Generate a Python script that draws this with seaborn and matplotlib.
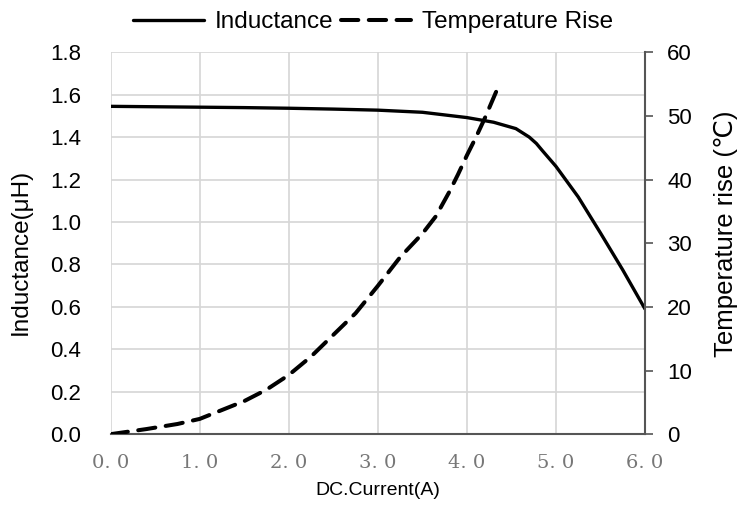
import numpy as np
import pandas as pd
from matplotlib import pyplot as plt
import seaborn as sns

sns.set_style('white')
plt.rcParams['font.family'] = ['Liberation Sans', 'DejaVu Sans']
plt.rcParams['text.color'] = 'black'
plt.rcParams['axes.labelcolor'] = 'black'
plt.rcParams['ytick.color'] = 'black'

ind_current = [0.0, 0.5, 1.0, 1.5, 2.0, 2.5, 3.0, 3.5, 4.0, 4.3, 4.55, 4.7, 4.78, 4.85, 5.0, 5.25, 5.5, 5.75, 6.0]
inductance = [1.545, 1.543, 1.541, 1.539, 1.536, 1.532, 1.527, 1.517, 1.492, 1.47, 1.44, 1.40, 1.37, 1.335, 1.262, 1.118, 0.948, 0.774, 0.59]

temp_current = [0.0, 0.4, 0.75, 1.0, 1.25, 1.5, 1.75, 2.0, 2.25, 2.5, 2.75, 3.0, 3.25, 3.5, 3.65, 3.8, 3.9, 4.0, 4.1, 4.2, 4.35]
temp_rise = [0.0, 0.8, 1.6, 2.4, 3.8, 5.2, 7.0, 9.3, 12.2, 15.6, 19.0, 23.3, 27.8, 31.5, 34.2, 38.0, 40.8, 43.8, 46.6, 49.6, 54.5]

x_ticks = [0, 1, 2, 3, 4, 5, 6]
x_labels = ['0. 0', '1. 0', '2. 0', '3. 0', '4. 0', '5. 0', '6. 0']

df_l = pd.DataFrame({'current': ind_current, 'L': inductance})
df_t = pd.DataFrame({'current': temp_current, 'T': temp_rise})

fig = plt.figure(figsize=(7.38, 5.12), dpi=100)
ax = fig.add_axes([0.150, 0.152, 0.724, 0.746])
ax2 = ax.twinx()

sns.lineplot(data=df_l, x='current', y='L', ax=ax, color='black', lw=2.4,
             label='Inductance', legend=False)
sns.lineplot(data=df_t, x='current', y='T', ax=ax2, color='black', lw=2.9,
             label='Temperature Rise', legend=False)
ax2.lines[0].set_dashes([4.3, 2.6])
ax2.lines[0].set_dash_capstyle('round')

ax.set_xlim(0, 6)
ax.set_ylim(0, 1.8)
ax2.set_ylim(0, 60)
ax.set_yticks(np.arange(0, 1.81, 0.2))
ax.set_yticklabels([f'{v:.1f}' for v in np.arange(0, 1.81, 0.2)])
ax2.set_yticks(range(0, 61, 10))
ax.set_xticks(x_ticks)
ax.set_xticklabels(x_labels, family='DejaVu Serif', color='#777777', fontsize=14)

ax.grid(True, color='#d6d6d6', lw=1.2)
ax.set_axisbelow(True)
for sp in ['left', 'top']:
    ax.spines[sp].set_visible(False)
    ax2.spines[sp].set_visible(False)
ax.spines['right'].set_visible(False)
ax2.spines['bottom'].set_visible(False)
ax.spines['bottom'].set_color('#555555')
ax.spines['bottom'].set_linewidth(1.5)
ax2.spines['right'].set_color('#555555')
ax2.spines['right'].set_linewidth(1.5)

ax.tick_params(axis='y', left=False, labelsize=16, pad=18)
ax.tick_params(axis='x', bottom=False, pad=11)
ax2.tick_params(axis='y', right=True, direction='out', length=6, width=1.2,
                color='#555555', labelcolor='black', labelsize=16, pad=10)

ax.set_xlabel('DC.Current(A)', fontsize=14)
ax.xaxis.set_label_coords(0.5, -0.125)
ax.set_ylabel('Inductance(μH)', fontsize=17.5)
ax.yaxis.set_label_coords(-0.148, 0.478)
ax2.set_ylabel('Temperature rise (℃)', fontsize=18.5)
ax2.yaxis.set_label_coords(1.128, 0.524)

handles = ax.get_lines()[:1] + ax2.get_lines()[:1]
fig.legend(handles, ['Inductance', 'Temperature Rise'], loc='center',
           bbox_to_anchor=(0.506, 0.957), ncol=2, frameon=False, fontsize=17.5,
           handlelength=2.9, columnspacing=0.3, handletextpad=0.45,
           borderaxespad=0, borderpad=0)

fig.savefig('out.png', dpi=100)
